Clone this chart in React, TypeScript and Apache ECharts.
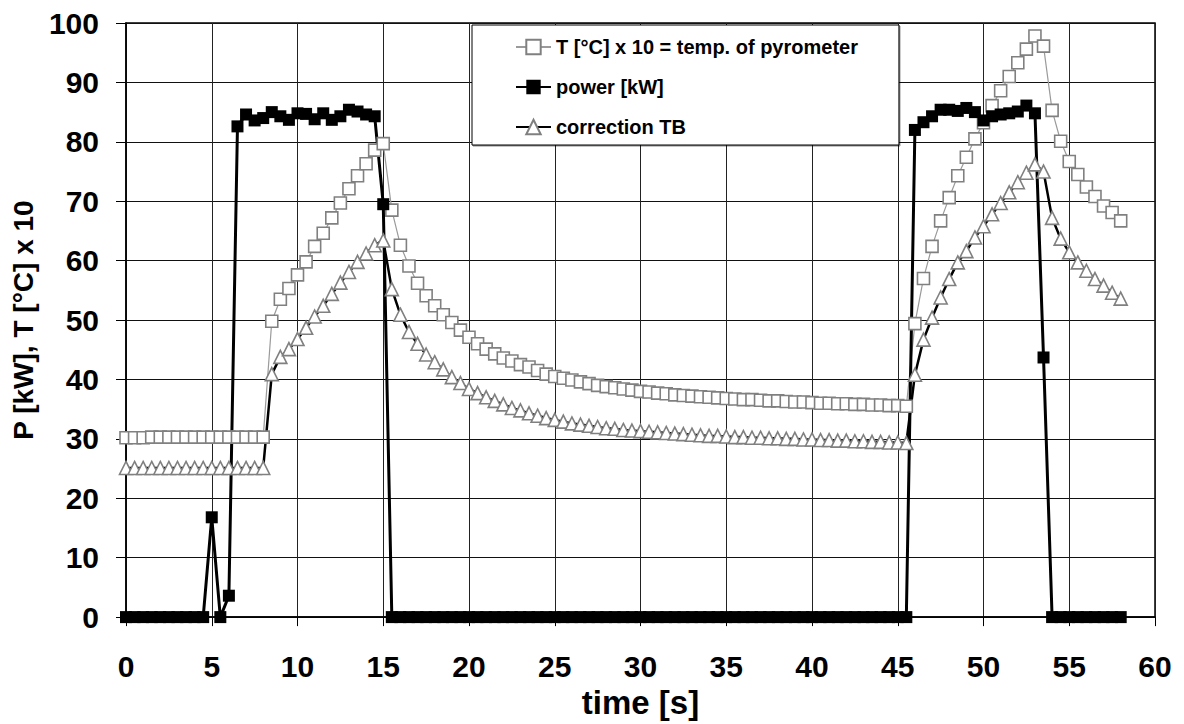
import React, { useEffect, useRef } from "react";
import * as echarts from "echarts";

// sample times [s]
const TIME = [
  0, 0.5, 1, 1.5, 2, 2.5, 3, 3.5, 4, 4.5, 5, 5.5, 6, 6.5, 7, 7.5, 8, 8.5, 9, 9.5,
  10, 10.5, 11, 11.5, 12, 12.5, 13, 13.5, 14, 14.5, 15, 15.5, 16, 16.5, 17, 17.5, 18, 18.5, 19, 19.5,
  20, 20.5, 21, 21.5, 22, 22.5, 23, 23.5, 24, 24.5, 25, 25.5, 26, 26.5, 27, 27.5, 28, 28.5, 29, 29.5,
  30, 30.5, 31, 31.5, 32, 32.5, 33, 33.5, 34, 34.5, 35, 35.5, 36, 36.5, 37, 37.5, 38, 38.5, 39, 39.5,
  40, 40.5, 41, 41.5, 42, 42.5, 43, 43.5, 44, 44.5, 45, 45.5, 46, 46.5, 47, 47.5, 48, 48.5, 49, 49.5,
  50, 50.5, 51, 51.5, 52, 52.5, 53, 53.5, 54, 54.5, 55, 55.5, 56, 56.5, 57, 57.5, 58,
];

// T [°C] x 10 = temp. of pyrometer
const PYRO = [
  30.2, 30.2, 30.2, 30.3, 30.3, 30.3, 30.3, 30.3, 30.3, 30.3, 30.3, 30.3, 30.3, 30.3, 30.3, 30.3, 30.3,
  49.8, 53.5, 55.3, 57.6, 59.8, 62.4, 64.6, 67.2, 69.7, 72.1, 74.3, 76.3, 78.6, 79.7,
  68.5, 62.6, 59.1, 56.2, 54.1, 52.4, 50.9, 49.6, 48.3, 47.1, 46.0, 45.1, 44.3, 43.6, 43.1, 42.5, 42.1, 41.5, 40.9,
  40.5, 40.2, 39.9, 39.6, 39.3, 39.0, 38.8, 38.6, 38.4, 38.2, 38.0, 37.9, 37.7, 37.6, 37.4, 37.3, 37.2, 37.1, 37.0, 36.9,
  36.8, 36.7, 36.6, 36.6, 36.5, 36.4, 36.4, 36.3, 36.2, 36.2, 36.1, 36.0, 36.0, 35.9, 35.9, 35.8, 35.8, 35.7, 35.7, 35.6,
  35.6, 35.5,
  49.4, 57.0, 62.4, 66.7, 70.6, 74.3, 77.4, 80.5, 83.2, 86.1, 88.6, 91.0, 93.3, 95.6, 97.8, 96.1, 85.3, 80.1, 76.7, 74.5,
  72.4, 70.8, 69.2, 68.1, 66.7,
];

// power [kW]
const POWER = [
  0, 0, 0, 0, 0, 0, 0, 0, 0, 0,
  16.8, 0, 3.6,
  82.6, 84.6, 83.6, 84.0, 85.0, 84.3, 83.7, 84.8, 84.7, 83.8, 84.8, 83.7, 84.3, 85.4, 85.1, 84.6, 84.3,
  69.5,
  0, 0, 0, 0, 0, 0, 0, 0, 0, 0,
  0, 0, 0, 0, 0, 0, 0, 0, 0, 0,
  0, 0, 0, 0, 0, 0, 0, 0, 0, 0,
  0, 0, 0, 0, 0, 0, 0, 0, 0, 0,
  0, 0, 0, 0, 0, 0, 0, 0, 0, 0,
  0, 0, 0, 0, 0, 0, 0, 0, 0, 0,
  0,
  82.0, 83.3, 84.3, 85.4, 85.4, 85.2, 85.7, 85.0, 83.6, 84.3, 84.6, 84.8, 85.1, 86.1, 84.8,
  43.7,
  0, 0, 0, 0, 0, 0, 0, 0, 0,
];

// correction TB
const CORR = [
  25.1, 25.1, 25.1, 25.1, 25.1, 25.1, 25.1, 25.1, 25.1, 25.1, 25.1, 25.1, 25.1, 25.1, 25.1, 25.1, 25.1,
  40.9, 43.8, 45.1, 46.8, 48.7, 50.6, 52.4, 54.4, 56.3, 58.1, 59.8, 61.2, 62.6, 63.4,
  55.2, 50.9, 48.0, 46.0, 44.2, 42.9, 41.7, 40.4, 39.4, 38.4, 37.7, 37.0, 36.4, 35.8, 35.2, 34.8, 34.3, 33.9, 33.5,
  33.2, 32.9, 32.6, 32.4, 32.2, 32.0, 31.8, 31.7, 31.5, 31.4, 31.3, 31.2, 31.1, 31.0, 30.9, 30.8, 30.7, 30.6, 30.5, 30.5,
  30.4, 30.3, 30.3, 30.2, 30.2, 30.1, 30.1, 30.0, 30.0, 29.9, 29.9, 29.8, 29.8, 29.7, 29.7, 29.6, 29.6, 29.5, 29.5, 29.4,
  29.4, 29.3,
  40.8, 46.7, 50.4, 53.8, 56.9, 59.7, 61.6, 63.9, 65.8, 67.8, 69.7, 71.5, 73.2, 74.8, 76.2, 75.0, 67.2, 63.7, 61.4, 59.7,
  58.3, 56.9, 55.8, 54.6, 53.6,
];

const SERIES_NAMES = ["T [°C] x 10 = temp. of pyrometer", "power [kW]", "correction TB"];
const X_NAME = "time [s]";
const Y_NAME = "P [kW], T [°C] x 10";

const FONT = 'Arial, "Liberation Sans", Helvetica, sans-serif';

export default function App() {
  const ref = useRef<HTMLDivElement>(null);

  useEffect(() => {
    if (!ref.current) return;
    const chart = echarts.init(ref.current, null, { renderer: "svg" });
    const pair = (vals: number[]) => TIME.map((t, i) => [t, vals[i]]);

    chart.setOption({
      animation: false,
      backgroundColor: "#fff",
      grid: {
        left: 126,
        right: 29,
        top: 23,
        bottom: 105,
        show: true,
        borderColor: "#000",
        borderWidth: 1.5,
        backgroundColor: "transparent",
      },
      legend: {
        left: 472,
        top: 25,
        orient: "vertical",
        padding: [12, 41, 8, 43],
        itemGap: 20,
        itemWidth: 35,
        itemHeight: 18,
        backgroundColor: "#fff",
        borderColor: "#000",
        borderWidth: 1,
        shadowColor: "rgba(0,0,0,0.45)",
        shadowOffsetX: 1,
        shadowOffsetY: 1,
        selectedMode: false,
        textStyle: {
          fontSize: 20,
          fontWeight: "bold",
          fontFamily: FONT,
          color: "#000",
          lineHeight: 20,
        },
        data: SERIES_NAMES,
      },
      xAxis: {
        type: "value",
        min: 0,
        max: 60,
        interval: 5,
        name: X_NAME,
        nameLocation: "middle",
        nameGap: 64,
        nameTextStyle: { fontSize: 33, fontWeight: "bold", fontFamily: FONT, color: "#000" },
        axisLine: { show: true, lineStyle: { color: "#000", width: 1.5 } },
        axisTick: { show: true, inside: false, length: 9, lineStyle: { color: "#000", width: 1 } },
        axisLabel: { fontSize: 30, fontWeight: "bold", fontFamily: FONT, color: "#000", margin: 34 },
        splitLine: { show: true, lineStyle: { color: "#222", width: 1 } },
      },
      yAxis: {
        type: "value",
        min: 0,
        max: 100,
        interval: 10,
        name: Y_NAME,
        nameLocation: "middle",
        nameRotate: 90,
        nameGap: 89,
        nameTextStyle: { fontSize: 28, fontWeight: "bold", fontFamily: FONT, color: "#000" },
        axisLine: { show: true, lineStyle: { color: "#000", width: 1.5 } },
        axisTick: { show: true, inside: false, length: 10, lineStyle: { color: "#000", width: 1 } },
        axisLabel: { fontSize: 30, fontWeight: "bold", fontFamily: FONT, color: "#000", margin: 27 },
        splitLine: { show: true, lineStyle: { color: "#111", width: 1 } },
      },
      series: [
        {
          name: SERIES_NAMES[0],
          type: "line",
          data: pair(PYRO),
          symbol: "rect",
          symbolSize: 12,
          showAllSymbol: true,
          lineStyle: { color: "#9a9a9a", width: 1.2 },
          itemStyle: { color: "#fff", borderColor: "#808080", borderWidth: 1.6 },
        },
        {
          name: SERIES_NAMES[1],
          type: "line",
          data: pair(POWER),
          symbol: "rect",
          symbolSize: 12,
          showAllSymbol: true,
          lineStyle: { color: "#000", width: 3 },
          itemStyle: { color: "#000", borderColor: "#000", borderWidth: 0 },
        },
        {
          name: SERIES_NAMES[2],
          type: "line",
          data: pair(CORR),
          symbol: "triangle",
          symbolSize: 13,
          showAllSymbol: true,
          lineStyle: { color: "#000", width: 2.5 },
          itemStyle: { color: "#fff", borderColor: "#808080", borderWidth: 1.6 },
        },
      ],
    });

    return () => chart.dispose();
  }, []);

  return (
    <div
      ref={ref}
      style={{ position: "fixed", left: 0, top: 0, width: 1184, height: 724, background: "#fff" }}
    />
  );
}
